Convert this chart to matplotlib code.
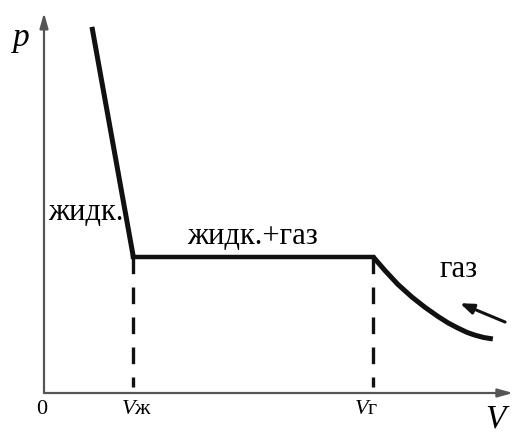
import numpy as np
import matplotlib
matplotlib.use('Agg')
import matplotlib.pyplot as plt

plt.rcParams['font.family'] = ['Liberation Serif', 'DejaVu Serif']
plt.rcParams['mathtext.fontset'] = 'custom'
plt.rcParams['mathtext.it'] = 'Liberation Serif:italic'
plt.rcParams['mathtext.rm'] = 'Liberation Serif'

# volumes / pressures (arbitrary units)
v_liq = 1.9
v_gas = 7.0
p_sat = 2.9

# liquid branch (steep line)
liq_v = [1.02, 1.9]
liq_p = [7.79, 2.9]

# gas branch (isotherm beyond V_g)
gas_v = [7.0, 7.26, 7.53, 7.83, 8.11, 8.38, 8.60, 8.81, 9.00, 9.17, 9.36, 9.55]
gas_p = [2.9, 2.60, 2.31, 2.04, 1.82, 1.63, 1.49, 1.38, 1.29, 1.23, 1.18, 1.15]

fig = plt.figure(figsize=(5.2, 4.34), dpi=100)
ax = fig.add_axes([0, 0, 1, 1])
ax.set_xlim(-44 / 47, 476 / 47)
ax.set_ylim(-41 / 47, 393 / 47)
ax.axis('off')

axcol = '#555555'
# axes with arrows
ax.annotate('', xy=(0, 8.09), xytext=(0, 0),
            arrowprops=dict(arrowstyle='-|>,head_length=0.9,head_width=0.25',
                            color=axcol, lw=1.6, shrinkA=0, shrinkB=0))
ax.annotate('', xy=(9.98, 0), xytext=(0, 0),
            arrowprops=dict(arrowstyle='-|>,head_length=0.9,head_width=0.25',
                            color=axcol, lw=1.6, shrinkA=0, shrinkB=0))

# isotherm
ax.plot(liq_v, liq_p, color='#111111', lw=3.6, solid_capstyle='butt')
ax.plot([v_liq, v_gas], [p_sat, p_sat], color='#111111', lw=3.2)
ax.plot(gas_v, gas_p, color='#111111', lw=3.6, solid_capstyle='butt',
        solid_joinstyle='round')

# dashed drop lines
for v in [v_liq, v_gas]:
    ax.plot([v, v], [p_sat, 0.12], color='#111111', lw=2.4,
            dashes=(5, 4))

# direction arrow
ax.annotate('', xy=(8.85, 1.91), xytext=(9.81, 1.51),
            arrowprops=dict(arrowstyle='-|>,head_length=0.8,head_width=0.3',
                            color='#111111', lw=2.2, shrinkA=0, shrinkB=0))

# labels
ax.text(-0.49, 7.55, 'p', fontsize=24, style='italic', ha='center', va='center')
ax.text(9.6, -0.56, 'V', fontsize=24, style='italic', ha='center', va='center')
ax.text(-0.05, -0.36, '0', fontsize=16, ha='center', va='center')
ax.text(1.98, -0.36, '$V$ж', fontsize=16, ha='center', va='center')
ax.text(6.85, -0.36, '$V$г', fontsize=16, ha='center', va='center')
ax.text(0.9, 3.85, 'жидк.', fontsize=22, ha='center', va='center')
ax.text(4.43, 3.34, 'жидк.+газ', fontsize=22, ha='center', va='center')
ax.text(8.83, 2.62, 'газ', fontsize=22, ha='center', va='center')

fig.savefig('out.png', dpi=100)
